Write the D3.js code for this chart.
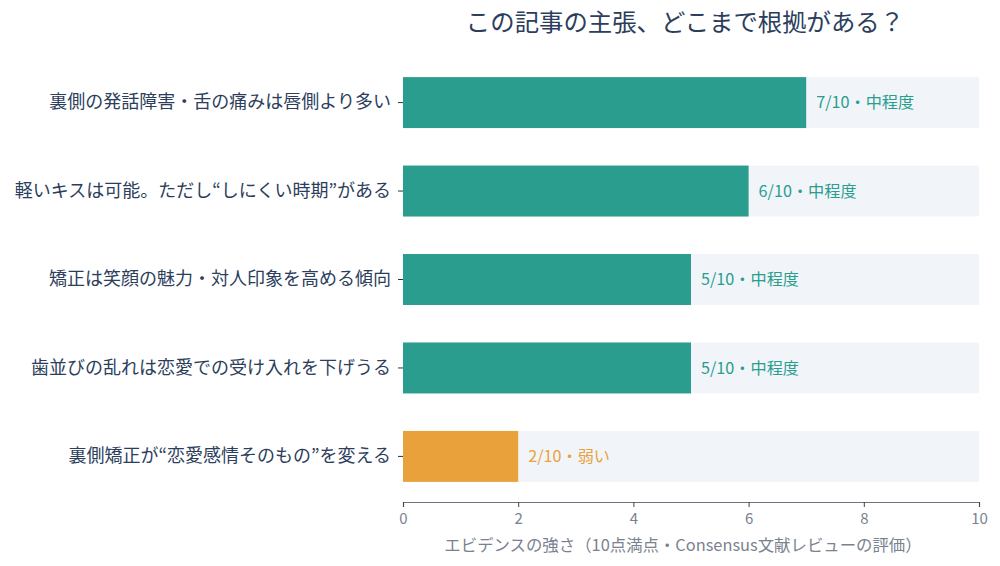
<!DOCTYPE html>
<html><head><meta charset="utf-8">
<script src="https://cdn.jsdelivr.net/npm/d3@7"></script>
<style>body{margin:0;background:#fff}svg{display:block;font-family:"Noto Sans CJK JP","Noto Sans",sans-serif}</style>
</head><body><svg id="c" width="1000" height="566"></svg>
<script>
const categories = [
  "裏側の発話障害・舌の痛みは唇側より多い",
  "軽いキスは可能。ただし“しにくい時期”がある",
  "矯正は笑顔の魅力・対人印象を高める傾向",
  "歯並びの乱れは恋愛での受け入れを下げうる",
  "裏側矯正が“恋愛感情そのもの”を変える"
];
const scores = [7, 6, 5, 5, 2];
const levels = ["中程度", "中程度", "中程度", "中程度", "弱い"];
const xTicks = [0, 2, 4, 6, 8, 10];
const title = "この記事の主張、どこまで根拠がある？";
const xTitle = "エビデンスの強さ（10点満点・Consensus文献レビューの評価）";

const svg = d3.select("#c");
const left = 403, right = 979, axisY = 502;
const x = d3.scaleLinear().domain([0, 10]).range([left, right]);
const y = d3.scaleBand().domain(categories).range([55, 504]).paddingInner(0.424).paddingOuter(0.25);
const color = v => v >= 5 ? "#2a9d8f" : "#e9a23b";
const textColor = "#2c3e5c";

svg.append("text").attr("x", 685).attr("y", 31).attr("text-anchor", "middle")
  .attr("font-size", 24.4).attr("fill", textColor).text(title);

const g = svg.append("g");
g.selectAll("rect.bg").data(categories).join("rect")
  .attr("x", x(0)).attr("y", d => y(d)).attr("width", x(10) - x(0)).attr("height", y.bandwidth())
  .attr("fill", "#f1f5f9");
g.selectAll("rect.bar").data(categories).join("rect")
  .attr("x", x(0)).attr("y", d => y(d)).attr("width", (d, i) => x(scores[i]) - x(0)).attr("height", y.bandwidth())
  .attr("fill", (d, i) => color(scores[i]));
g.selectAll("text.val").data(categories).join("text")
  .attr("x", (d, i) => x(scores[i]) + 10).attr("y", d => y(d) + y.bandwidth() / 2)
  .attr("dy", "0.35em").attr("font-size", 16.2).attr("fill", (d, i) => color(scores[i]))
  .text((d, i) => `${scores[i]}/10・${levels[i]}`);

// y axis (ticks only)
const ya = svg.append("g").attr("transform", `translate(${left},0)`)
  .call(d3.axisLeft(y).tickSize(5).tickPadding(7));
ya.select(".domain").remove();
ya.selectAll(".tick line").attr("stroke", "#333");
ya.selectAll(".tick text").attr("font-size", 18).attr("fill", textColor)
  .attr("font-family", "'Noto Sans CJK JP',sans-serif");

// x axis
const xa = svg.append("g").attr("transform", `translate(0,${axisY})`)
  .call(d3.axisBottom(x).tickValues(xTicks).tickSize(5).tickPadding(6).tickFormat(d3.format("d")));
xa.select(".domain").attr("stroke", "#6b7480").attr("stroke-width", 1.2);
xa.selectAll(".tick line").attr("stroke", "#444");
xa.selectAll(".tick text").attr("font-size", 15).attr("fill", "#7a8290")
  .attr("font-family", "'Noto Sans CJK JP',sans-serif");

svg.append("text").attr("x", (left + right) / 2 - 8).attr("y", 551).attr("text-anchor", "middle")
  .attr("font-size", 16.4).attr("fill", "#7a8290").text(xTitle);
</script></body></html>
